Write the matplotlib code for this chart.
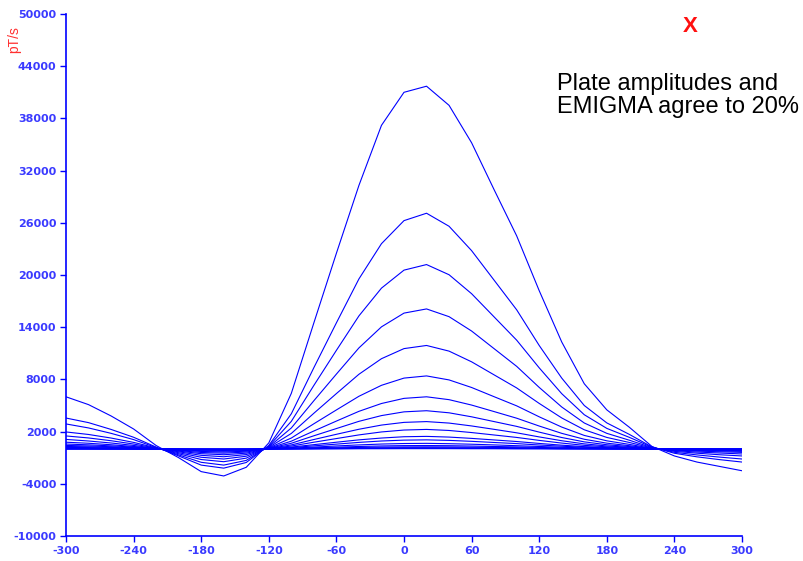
import matplotlib
matplotlib.use("Agg")
import matplotlib.pyplot as plt

plt.rcParams['axes.unicode_minus'] = False

# station positions (m)
x = list(range(-300, 301, 20))

# response per time channel, pT/s (early -> late)
ch01 = [6000, 5100, 3800, 2300, 400, -1000, -2600, -3100, -2100, 700, 6400, 14500, 22500, 30300, 37200, 41000,
        41700, 39500, 35200, 29800, 24500, 18200, 12300, 7500, 4500, 2500, 300, -800, -1500, -2000, -2500]
ch02 = [3560, 3030, 2250, 1350, 220, -800, -1850, -2200, -1550, 400, 4050, 9350, 14500, 19550, 23600, 26250,
        27100, 25600, 22800, 19400, 16000, 11900, 8150, 5000, 3000, 1680, 240, -490, -900, -1220, -1500]
ch03 = [2880, 2420, 1800, 1080, 170, -680, -1530, -1850, -1310, 320, 3180, 7310, 11340, 15300, 18490, 20560,
        21200, 20030, 17850, 15180, 12510, 9330, 6360, 3940, 2370, 1340, 210, -380, -680, -930, -1150]
ch04 = [1960, 1670, 1260, 760, 130, -550, -1210, -1460, -1050, 240, 2420, 5550, 8610, 11620, 14040, 15620,
        16100, 15210, 13560, 11530, 9500, 7080, 4830, 2990, 1800, 1010, 160, -270, -480, -660, -800]
ch05 = [1500, 1270, 950, 570, 100, -430, -950, -1150, -830, 180, 1790, 4110, 6370, 8590, 10380, 11540,
        11900, 11250, 10020, 8520, 7020, 5240, 3570, 2210, 1330, 750, 120, -190, -350, -460, -570]
ch06 = [1100, 920, 690, 410, 70, -320, -730, -890, -640, 130, 1260, 2900, 4490, 6060, 7320, 8150,
        8400, 7940, 7070, 6010, 4960, 3700, 2520, 1560, 940, 530, 80, -130, -240, -320, -390]
ch07 = [780, 660, 490, 290, 50, -240, -540, -660, -480, 90, 900, 2070, 3210, 4330, 5230, 5820,
        6000, 5670, 5050, 4300, 3540, 2640, 1800, 1120, 670, 380, 60, -100, -170, -230, -270]
ch08 = [570, 480, 360, 220, 40, -180, -400, -480, -350, 70, 660, 1520, 2350, 3180, 3840, 4270,
        4400, 4160, 3700, 3150, 2600, 1940, 1320, 820, 490, 280, 40, -70, -120, -170, -200]
ch09 = [410, 350, 260, 150, 30, -130, -280, -350, -250, 50, 470, 1090, 1690, 2270, 2750, 3060,
        3150, 2980, 2650, 2260, 1860, 1390, 950, 590, 350, 200, 30, -50, -90, -120, -140]
ch10 = [290, 250, 180, 110, 20, -90, -200, -250, -180, 30, 340, 780, 1200, 1620, 1960, 2180,
        2250, 2130, 1890, 1610, 1330, 990, 680, 420, 250, 140, 20, -40, -60, -90, -100]
ch11 = [190, 160, 120, 70, 10, -60, -130, -160, -120, 20, 220, 500, 780, 1050, 1260, 1410,
        1450, 1370, 1220, 1040, 860, 640, 440, 270, 160, 90, 10, -20, -40, -60, -70]
ch12 = [140, 120, 90, 50, 10, -40, -90, -120, -80, 20, 160, 360, 560, 760, 920, 1020,
        1050, 990, 880, 750, 620, 460, 320, 200, 120, 70, 10, -20, -30, -40, -50]
ch13 = [80, 70, 50, 30, 10, -30, -60, -70, -50, 10, 100, 220, 350, 470, 570, 630,
        650, 610, 550, 470, 380, 290, 200, 120, 70, 40, 10, -10, -20, -20, -30]
ch14 = [50, 40, 30, 20, 0, -20, -40, -40, -30, 10, 60, 140, 210, 290, 350, 390,
        400, 380, 340, 290, 240, 180, 120, 70, 40, 30, 0, -10, -10, -20, -20]
ch15 = [30, 30, 20, 10, 0, -10, -20, -30, -20, 0, 40, 90, 130, 180, 220, 240,
        250, 240, 210, 180, 150, 110, 80, 50, 30, 20, 0, 0, -10, -10, -10]
ch16 = [20, 20, 10, 10, 0, -10, -10, -20, -10, 0, 20, 50, 80, 110, 130, 150,
        150, 140, 130, 110, 90, 70, 50, 30, 20, 10, 0, 0, 0, -10, -10]
ch17 = [10, 10, 10, 0, 0, 0, -10, -10, -10, 0, 10, 30, 40, 60, 70, 80,
        80, 80, 70, 60, 50, 40, 20, 10, 10, 10, 0, 0, 0, 0, 0]
ch18 = [0, 0, 0, 0, 0, 0, 0, 0, 0, 0, 0, 10, 20, 30, 30, 40,
        40, 40, 30, 30, 20, 20, 10, 10, 0, 0, 0, 0, 0, 0, 0]
channels = [ch01, ch02, ch03, ch04, ch05, ch06, ch07, ch08, ch09,
            ch10, ch11, ch12, ch13, ch14, ch15, ch16, ch17, ch18]

xticks = list(range(-300, 301, 60))
yticks = list(range(-10000, 50001, 6000))

axis_blue = '#0000ff'
label_blue = '#3a3aff'

fig = plt.figure(figsize=(8.04, 5.61), dpi=100)
ax = fig.add_axes([66 / 804, 25 / 561, 676 / 804, 522 / 561])

for ch in channels:
    ax.plot(x, ch, color=axis_blue, lw=0.8)

ax.set_xlim(-300, 300)
ax.set_ylim(-10000, 50000)
ax.set_xticks(xticks)
ax.set_yticks(yticks)

for side in ['top', 'right']:
    ax.spines[side].set_visible(False)
for side in ['left', 'bottom']:
    ax.spines[side].set_color(axis_blue)
    ax.spines[side].set_linewidth(1.2)

ax.tick_params(colors=axis_blue, length=4, width=1.0, labelcolor=label_blue, labelsize=8, pad=3)
for lab in ax.get_xticklabels() + ax.get_yticklabels():
    lab.set_fontweight('bold')

# units label at top left
fig.text(14.5 / 804, 1 - 40 / 561, 'pT/s', rotation=90, color='#ff3030', fontsize=10,
         ha='center', va='center', family='Liberation Sans')

# annotation
fig.text(690 / 804, 1 - 27 / 561, 'X', color='#ff1010', fontsize=16, fontweight='bold',
         ha='center', va='center', family='Liberation Sans')
fig.text(557 / 804, 1 - 113 / 561, 'Plate amplitudes and\nEMIGMA agree to 20%', color='black',
         fontsize=17, ha='left', va='baseline', linespacing=1.08, family='Liberation Sans',
         multialignment='left')

fig.savefig('out.png', dpi=100)
